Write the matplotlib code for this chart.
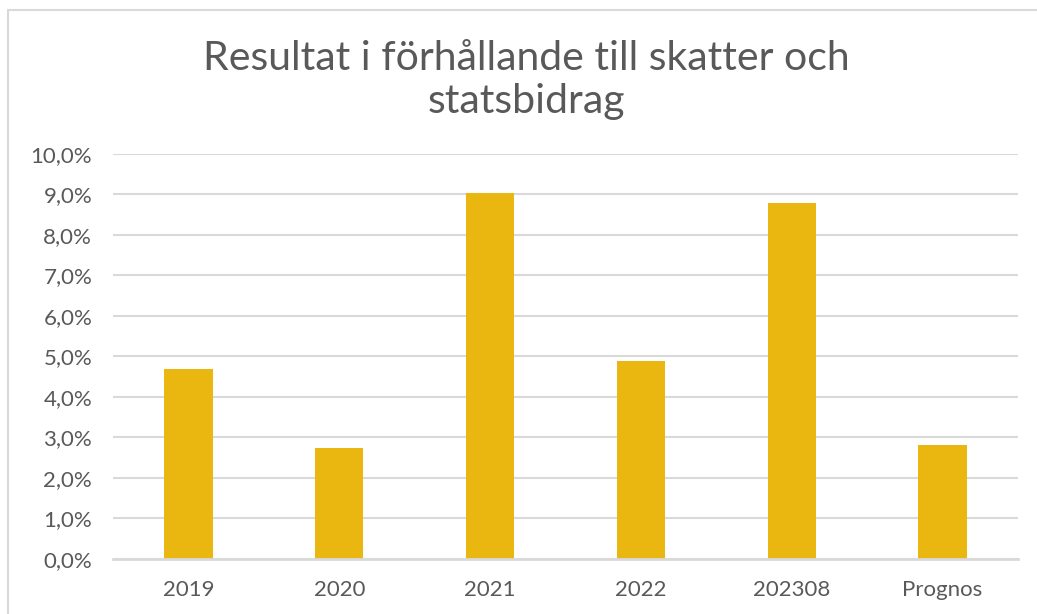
import matplotlib
matplotlib.use("Agg")
from matplotlib import pyplot as plt
from matplotlib.patches import Rectangle
from matplotlib.ticker import FuncFormatter
import numpy as np

# data: result as share of taxes and state grants
years = ['2019', '2020', '2021', '2022', '202308', 'Prognos']
share = [0.047, 0.0275, 0.0904, 0.0488, 0.0880, 0.0282]

bar_color = '#EAB711'
text_color = '#595959'
grid_color = '#D9D9D9'

plt.rcParams['font.family'] = ['Lato', 'DejaVu Sans']

fig = plt.figure(figsize=(10.37, 6.14), dpi=100)
ax = fig.add_axes([0.109, 0.0896, 0.8727, 0.6596])

x = np.arange(len(years))
ax.bar(x, share, width=0.32, color=bar_color, zorder=3)

ax.set_xlim(-0.5, len(years) - 0.5)
ax.set_ylim(0, 0.10)
ax.set_yticks(np.arange(0, 0.1001, 0.01))
ax.yaxis.set_major_formatter(FuncFormatter(lambda v, p: f'{v*100:.1f}%'.replace('.', ',')))
ax.set_xticks(x)
ax.set_xticklabels(years)

ax.grid(axis='y', color=grid_color, linewidth=1.5, zorder=0)
for s in ['top', 'right', 'left']:
    ax.spines[s].set_visible(False)
ax.spines['bottom'].set_color(grid_color)
ax.spines['bottom'].set_linewidth(2)
ax.spines['bottom'].set_zorder(4)

ax.tick_params(axis='both', length=0, labelsize=16, labelcolor=text_color)
ax.tick_params(axis='y', pad=15)
ax.tick_params(axis='x', pad=15)

fig.text(0.508, 0.870, 'Resultat i förhållande till skatter och\nstatsbidrag',
         ha='center', va='center', fontsize=29.5, color=text_color,
         linespacing=1.2)

# thin chart frame
fig.patches.append(Rectangle((8 / 1037, -0.05), 1.2, 1.05 - 9.5 / 614,
                             transform=fig.transFigure, fill=False,
                             edgecolor=grid_color, linewidth=1.5))

fig.savefig('out.png', dpi=100)
